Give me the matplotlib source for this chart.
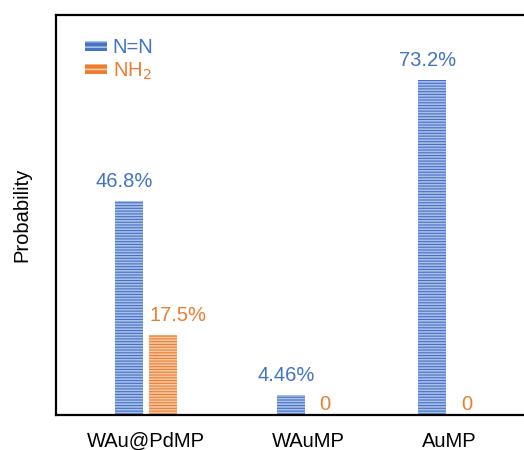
import numpy as np
import matplotlib.pyplot as plt
from matplotlib.patches import Patch

plt.rcParams['font.family'] = ['Liberation Sans', 'DejaVu Sans']
plt.rcParams['hatch.linewidth'] = 1.2

# data
categories = ['WAu@PdMP', 'WAuMP', 'AuMP']
nn_values = [46.8, 4.46, 73.2]
nh2_values = [17.5, 0, 0]
nn_labels = ['46.8%', '4.46%', '73.2%']
nh2_labels = ['17.5%', '0', '0']

blue = '#4472C4'
orange = '#ED7D31'

# group positions (uneven spacing as in the original)
x = np.array([0, 1, 1.87])
w = 0.173
off = 0.105

fig = plt.figure(figsize=(5.24, 4.5), dpi=100)
ax = fig.add_axes([56 / 524, 35 / 450, (532 - 56) / 524, 400 / 450])

ax.bar(x - off, nn_values, w, color=blue, edgecolor='#aabfe8', linewidth=0, hatch='------')
ax.bar(x + off, nh2_values, w, color=orange, edgecolor='#f7c6a3', linewidth=0, hatch='------')

fs = 14.5
for xi, v, s in zip(x, nn_values, nn_labels):
    ax.text(xi - off - 0.03, v + 2.2, s, color=blue, fontsize=fs, ha='center', va='bottom')
for xi, v, s in zip(x, nh2_values, nh2_labels):
    if v > 0:
        ax.text(xi + off + 0.09, v + 2.2, s, color=orange, fontsize=fs, ha='center', va='bottom')
    else:
        ax.text(xi + off, v + 0.3, s, color=orange, fontsize=fs, ha='center', va='bottom')

ax.set_xlim(-0.556, 2.38)
ax.set_ylim(0, 87.5)
ax.set_xticks(x)
ax.set_xticklabels(categories, fontsize=fs)
ax.set_yticks([])
ax.tick_params(axis='x', length=0, pad=12)
ax.set_ylabel('Probability', fontsize=fs, labelpad=18)

for sp in ['left', 'top', 'bottom', 'right']:
    ax.spines[sp].set_linewidth(1.6)
    ax.spines[sp].set_color('black')

handles = [Patch(facecolor=blue, edgecolor='#aabfe8', hatch='---', linewidth=0),
           Patch(facecolor=orange, edgecolor='#f7c6a3', hatch='---', linewidth=0)]
leg = ax.legend(handles, ['N=N', 'NH$_2$'], loc='upper left', bbox_to_anchor=(0.043, 0.962),
                frameon=False, fontsize=fs, handlelength=1.1, handleheight=0.4,
                handletextpad=0.3, labelspacing=0.15, borderaxespad=0)
for t, c in zip(leg.get_texts(), [blue, orange]):
    t.set_color(c)

fig.savefig('out.png', dpi=100)
